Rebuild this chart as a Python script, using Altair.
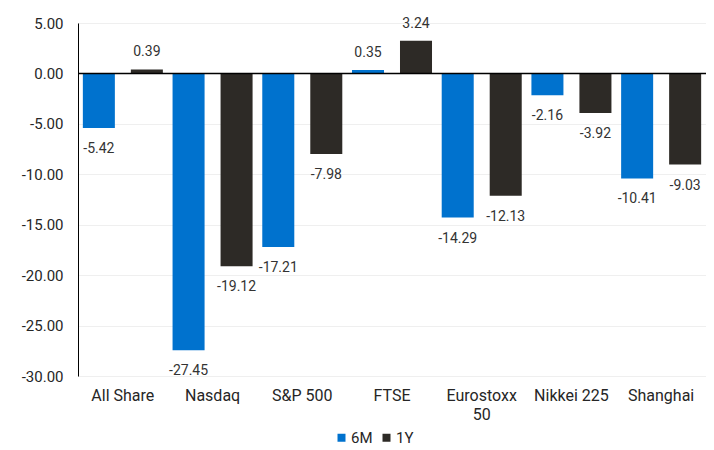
import altair as alt
import pandas as pd

categories = ["All Share", "Nasdaq", "S&P 500", "FTSE", "Eurostoxx 50", "Nikkei 225", "Shanghai"]
six_m = [-5.42, -27.45, -17.21, 0.35, -14.29, -2.16, -10.41]
one_y = [0.39, -19.12, -7.98, 3.24, -12.13, -3.92, -9.03]
series = ["6M", "1Y"]
colors = ["#0072CE", "#2D2A26"]
y_ticks = [-30, -25, -20, -15, -10, -5, 0, 5]

rows = []
for c, a, b in zip(categories, six_m, one_y):
    rows.append({"cat": c, "series": "6M", "value": a})
    rows.append({"cat": c, "series": "1Y", "value": b})
df = pd.DataFrame(rows)
df["label"] = df["value"].map(lambda v: f"{v:.2f}")

FONT = "Roboto"

x = alt.X(
    "cat:N",
    sort=categories,
    scale=alt.Scale(paddingInner=0, paddingOuter=0),
    axis=alt.Axis(
        title=None, labelAngle=0, domain=False, ticks=False, grid=False,
        labelFontSize=16, labelPadding=11, labelColor="#262626",
        labelExpr="datum.label == 'Eurostoxx 50' ? ['Eurostoxx', '50'] : datum.label",
        labelLineHeight=19, labelFont=FONT,
    ),
)
xoff = alt.XOffset("series:N", sort=series, scale=alt.Scale(paddingInner=0.333, paddingOuter=0.101))
y = alt.Y(
    "value:Q",
    scale=alt.Scale(domain=[-30, 5], nice=False, zero=False),
    axis=alt.Axis(
        title=None, values=y_ticks, ticks=False, domainColor="#000000", domainWidth=1,
        labelPadding=15, labelFontSize=15, labelColor="#262626", labelFont=FONT,
        labelExpr="replace(format(datum.value, '.2f'), '−', '-')",
        gridColor="#EFEFEF", gridWidth=1,
    ),
)
color = alt.Color(
    "series:N",
    sort=series,
    scale=alt.Scale(domain=series, range=colors),
    legend=alt.Legend(
        title=None, orient="none", legendX=256, legendY=407, direction="horizontal",
        symbolType="square", symbolSize=64, symbolStrokeWidth=0,
        labelFontSize=15, labelFont=FONT, labelColor="#262626",
        labelOffset=2, columnPadding=6,
    ),
)

base = alt.Chart(df)
bars = base.mark_bar().encode(x=x, xOffset=xoff, y=y, color=color)

pos_labels = base.transform_filter("datum.value >= 0").mark_text(
    baseline="alphabetic", dy=-13, fontSize=14, font=FONT, color="#333333"
).encode(x=x, xOffset=xoff, y=y, text="label:N")
neg_labels = base.transform_filter("datum.value < 0").mark_text(
    baseline="alphabetic", dy=25, fontSize=14, font=FONT, color="#333333"
).encode(x=x, xOffset=xoff, y=y, text="label:N")

zero = alt.Chart(pd.DataFrame({"z": [0]})).mark_rule(color="#000000", strokeWidth=1.5).encode(y="z:Q")

chart = (
    alt.layer(bars, zero, pos_labels, neg_labels)
    .properties(
        width=628, height=353,
        autosize=alt.AutoSizeParams(type="none"),
        padding={"left": 70, "top": 15, "right": 0, "bottom": 72},
    )
    .configure_view(stroke=None)
    .configure(font=FONT)
)

chart.save("out.html", embed_options={"renderer": "svg", "actions": False})
